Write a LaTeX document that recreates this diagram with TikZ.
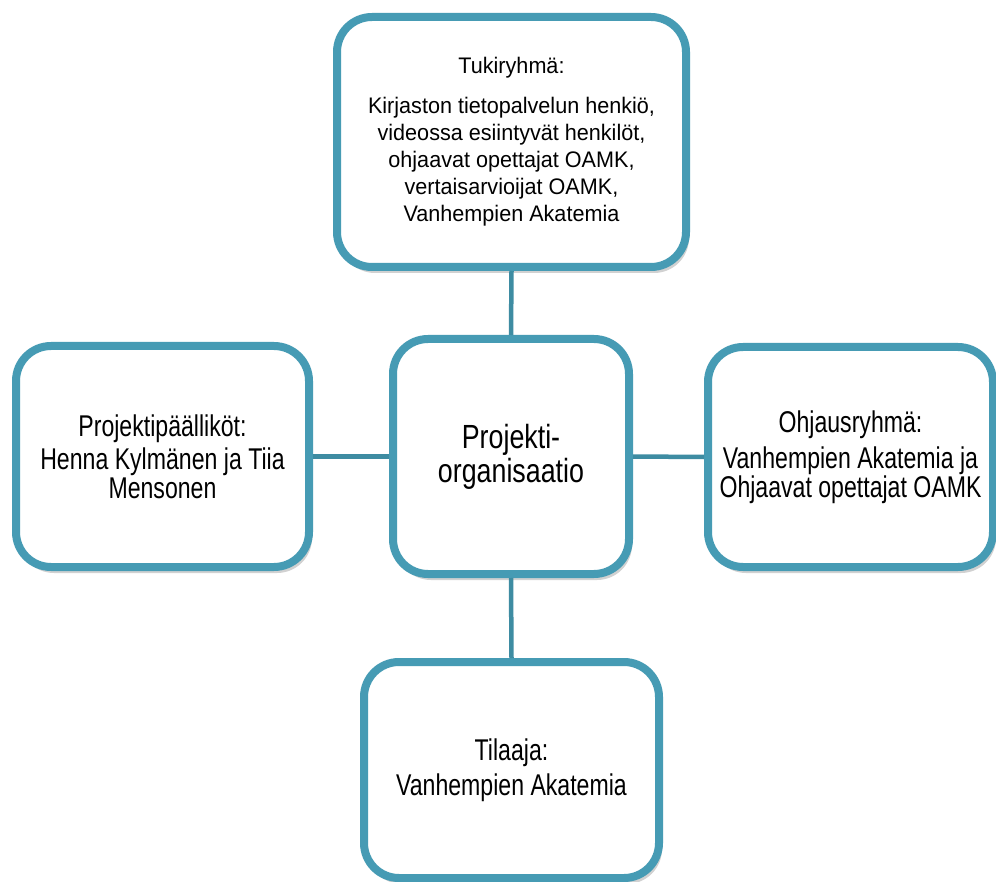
\documentclass[tikz,border=0pt]{standalone}
\usepackage{fontspec}
\setmainfont{Liberation Sans}
\newfontfamily\fontTop[FakeStretch=0.96]{Liberation Sans}
\newfontfamily\fontSide[FakeStretch=0.77]{Liberation Sans}
\newfontfamily\fontMid[FakeStretch=0.8]{Liberation Sans}
\usetikzlibrary{shadows}
\definecolor{boxline}{RGB}{70,155,180}
\definecolor{connline}{RGB}{62,140,162}
\tikzset{
  orgbox/.style={draw=boxline, line width=8pt, fill=white, rounded corners=35pt,
    align=center, inner sep=0pt, text=black,
    drop shadow={shadow xshift=3pt, shadow yshift=-6pt, opacity=0.18, fill=black}},
  sidetext/.style={font=\fontSide\fontsize{30}{29}\selectfont},
  toptext/.style={font=\fontTop\fontsize{22.5}{27}\selectfont},
  midtext/.style={font=\fontMid\fontsize{33.5}{34}\selectfont},
  conn/.style={draw=connline, line width=4.5pt}
}
\begin{document}
\begin{tikzpicture}[x=1pt,y=-1pt]
\useasboundingbox (0,0) rectangle (996,882);
\clip (0,0) rectangle (996,882);
\fill[white] (0,0) rectangle (996,882);
\node[orgbox, toptext, minimum width=349pt, minimum height=250pt] (top) at (511.5,142)
  {Tukiryhmä:\\[13pt]Kirjaston tietopalvelun henkiö,\\videossa esiintyvät henkilöt,\\ohjaavat opettajat OAMK,\\vertaisarvioijat OAMK,\\Vanhempien Akatemia};
\node[orgbox, sidetext, minimum width=293pt, minimum height=221pt] (left) at (162.5,456.5)
  {Projektipäälliköt:\\[4pt]Henna Kylmänen ja Tiia\\Mensonen};
\node[orgbox, midtext, minimum width=236pt, minimum height=235pt] (mid) at (511,456.5)
  {Projekti-\\organisaatio};
\node[orgbox, sidetext, minimum width=285pt, minimum height=220pt] (right) at (850.5,457)
  {Ohjausryhmä:\\[7pt]Vanhempien Akatemia ja\\Ohjaavat opettajat OAMK};
\node[orgbox, sidetext, minimum width=295pt, minimum height=216pt] (bottom) at (511.5,770)
  {Tilaaja:\\[6pt]Vanhempien Akatemia};
\draw[conn] (top.south) -- (mid.north);
\draw[conn] (left.east) -- (mid.west);
\draw[conn] (mid.east) -- (right.west);
\draw[conn] (mid.south) -- (bottom.north);
\end{tikzpicture}
\end{document}
